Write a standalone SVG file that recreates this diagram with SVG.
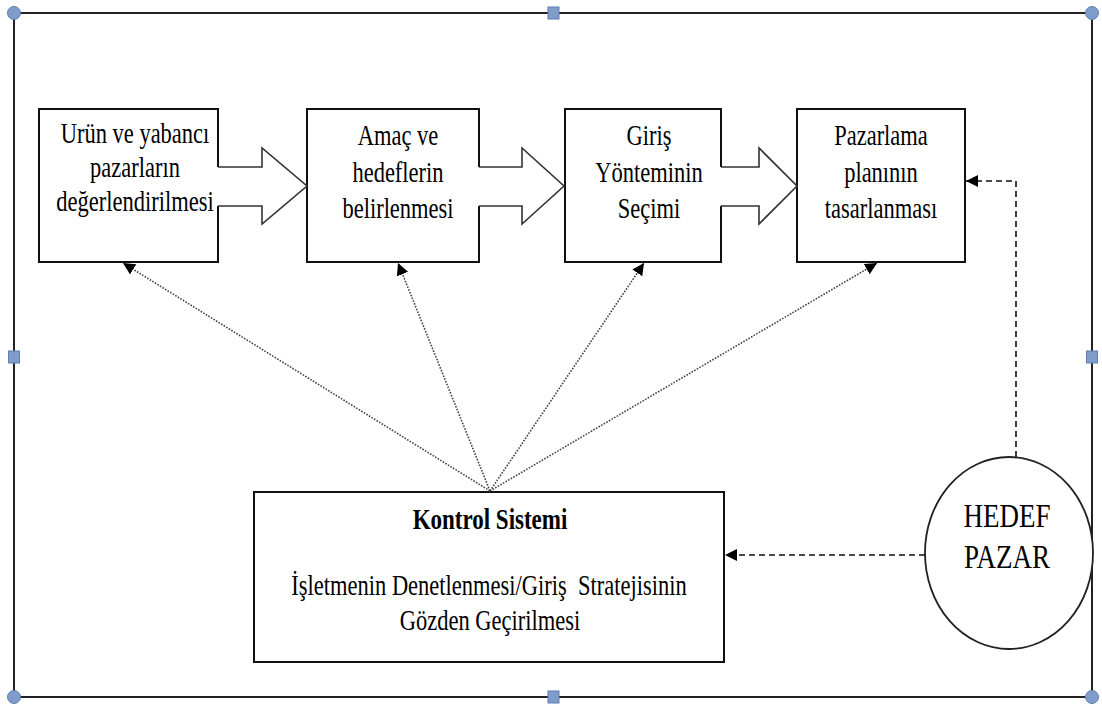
<svg xmlns="http://www.w3.org/2000/svg" width="1102" height="711" viewBox="0 0 1102 711">
<style>
.box{fill:#fff;stroke:#111;stroke-width:2}
.af{fill:#fff;stroke:none}
.as{fill:none;stroke:#333;stroke-width:1.6;stroke-linejoin:miter}
.t{font-family:"Liberation Serif","Times New Roman",serif;font-size:22.5px;text-anchor:middle;fill:#000}
.b{font-weight:bold;font-size:23px}
.h{font-size:27px}
.dot{fill:none;stroke:#444;stroke-width:1.6;stroke-dasharray:1.6 1.4}
.dash{fill:none;stroke:#111;stroke-width:1.6;stroke-dasharray:6 4}
.frame{fill:none;stroke:#222;stroke-width:2}
.hd{fill:#7f9ccb;stroke:#5f7fb2;stroke-width:1}
</style>
<defs>
<marker id="ah" markerWidth="13" markerHeight="12" refX="12" refY="6" orient="auto" markerUnits="userSpaceOnUse">
<path d="M0,0 L12,6 L0,12 Z" fill="#000"/>
</marker>
</defs>
<rect width="1102" height="711" fill="#fff"/>
<g id="frame">
<rect class="frame" x="14" y="13" width="1078" height="684"/>
<circle class="hd" cx="14" cy="13" r="6.5"/>
<circle class="hd" cx="1092" cy="13" r="6.5"/>
<circle class="hd" cx="14" cy="697" r="6.5"/>
<circle class="hd" cx="1092" cy="697" r="6.5"/>
<rect class="hd" x="548" y="7" width="11" height="12"/>
<rect class="hd" x="8.5" y="351" width="11" height="12"/>
<rect class="hd" x="1086.5" y="351" width="11" height="12"/>
<rect class="hd" x="548" y="691" width="11" height="12"/>
</g>
<g id="n1">
<rect class="box" x="39" y="109" width="179" height="153"/>
<text class="t" transform="translate(135,143) scale(1,1.27)">Urün ve yabancı</text>
<text class="t" transform="translate(135,177) scale(1,1.27)">pazarların</text>
<text class="t" transform="translate(135,211) scale(1,1.27)">değerlendirilmesi</text>
</g>
<g id="n2">
<rect class="box" x="307" y="109" width="172" height="153"/>
<text class="t" transform="translate(398,145) scale(1,1.27)">Amaç ve</text>
<text class="t" transform="translate(398,182) scale(1,1.27)">hedeflerin</text>
<text class="t" transform="translate(398,218) scale(1,1.27)">belirlenmesi</text>
</g>
<g id="n3">
<rect class="box" x="565" y="109" width="156" height="153"/>
<text class="t" transform="translate(649,145) scale(1,1.27)">Giriş</text>
<text class="t" transform="translate(649,182) scale(1,1.27)">Yönteminin</text>
<text class="t" transform="translate(649,218) scale(1,1.27)">Seçimi</text>
</g>
<g id="n4">
<rect class="box" x="797" y="109" width="168" height="153"/>
<text class="t" transform="translate(881,145) scale(1,1.27)">Pazarlama</text>
<text class="t" transform="translate(881,182) scale(1,1.27)">planının</text>
<text class="t" transform="translate(881,218) scale(1,1.27)">tasarlanması</text>
</g>
<g id="kontrol">
<rect class="box" x="254" y="492" width="470" height="170"/>
<text class="t b" transform="translate(490,529) scale(1,1.27)">Kontrol Sistemi</text>
<text class="t" style="white-space:pre" transform="translate(489,595) scale(1,1.27)">İşletmenin Denetlenmesi/Giriş  Stratejisinin</text>
<text class="t" transform="translate(490,630) scale(1,1.27)">Gözden Geçirilmesi</text>
</g>
<g id="hedef">
<ellipse cx="1009" cy="553" rx="84" ry="96" fill="#fff" stroke="#222" stroke-width="1.8"/>
<text class="t h" transform="translate(1007,527) scale(1,1.23)">HEDEF</text>
<text class="t h" transform="translate(1007,568) scale(1,1.23)">PAZAR</text>
</g>
<g id="connectors">
<g id="block-arrows">
<polygon class="af" points="216,167 262,167 262,148 307,186 262,224 262,206 216,206"/>
<polyline class="as" points="218,167 262,167 262,148 307,186 262,224 262,206 218,206"/>
<polygon class="af" points="477,167 522,167 522,148 564,186 522,224 522,206 477,206"/>
<polyline class="as" points="479,167 522,167 522,148 564,186 522,224 522,206 479,206"/>
<polygon class="af" points="719,167 759,167 759,148 797,186 759,224 759,206 719,206"/>
<polyline class="as" points="721,167 759,167 759,148 797,186 759,224 759,206 721,206"/>
</g>
<line class="dot" x1="490" y1="491" x2="123" y2="263" marker-end="url(#ah)"/>
<line class="dot" x1="490" y1="491" x2="398" y2="263" marker-end="url(#ah)"/>
<line class="dot" x1="490" y1="491" x2="644" y2="263" marker-end="url(#ah)"/>
<line class="dot" x1="490" y1="491" x2="877" y2="263" marker-end="url(#ah)"/>
<polyline class="dash" points="1016,457 1016,181 966,181" marker-end="url(#ah)"/>
<line class="dash" x1="925" y1="555" x2="725" y2="555" marker-end="url(#ah)"/>
</g>
</svg>
